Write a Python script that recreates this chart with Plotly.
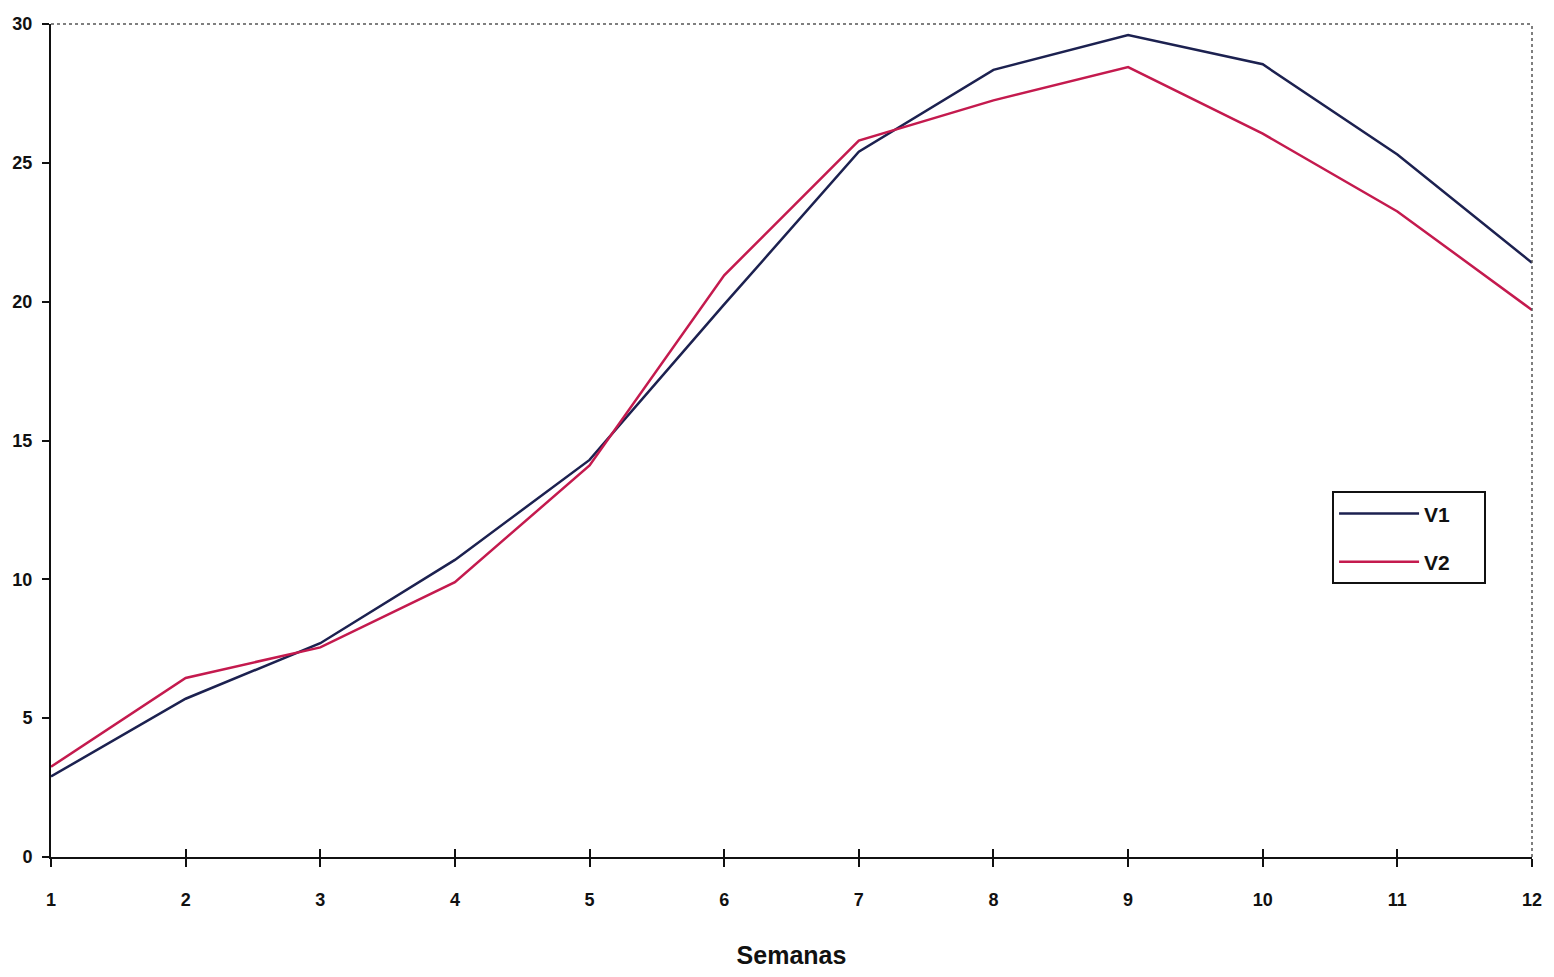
import plotly.graph_objects as go

# Weekly values for the two series
semanas = list(range(1, 13))
v1 = [2.9, 5.7, 7.7, 10.7, 14.3, 19.9, 25.4, 28.35, 29.6, 28.55, 25.3, 21.4]
v2 = [3.25, 6.45, 7.55, 9.9, 14.1, 20.95, 25.8, 27.25, 28.45, 26.05, 23.25, 19.7]
series_names = ["V1", "V2"]

y_ticks = [0, 5, 10, 15, 20, 25, 30]

FAMILY = "Liberation Sans, Arial, sans-serif"
BOLD = dict(family=FAMILY, size=18, color="#111111", weight="bold")
PAD = "\u00a0" * 5  # keeps the legend box wide on the right

fig = go.Figure()
fig.add_trace(go.Scatter(x=semanas, y=v1, mode="lines", name=series_names[0] + PAD,
                         legendgroup="a", line=dict(color="#1c2150", width=2.5)))
fig.add_trace(go.Scatter(x=semanas, y=v2, mode="lines", name=series_names[1] + PAD,
                         legendgroup="b", line=dict(color="#c41a4e", width=2.5)))
# helper trace so the inside-tick overlay axis is rendered
fig.add_trace(go.Scatter(x=[semanas[0]], y=[0], xaxis="x2", mode="lines",
                         showlegend=False, hoverinfo="skip",
                         line=dict(color="rgba(0,0,0,0)")))

fig.update_layout(
    width=1554, height=977,
    margin=dict(l=51, r=17, t=24, b=119),
    paper_bgcolor="white", plot_bgcolor="white",
    showlegend=True,
    legend=dict(
        x=0.865, y=0.439, xanchor="left", yanchor="top",
        bgcolor="white", bordercolor="#111111", borderwidth=2,
        font=dict(family=FAMILY, size=21, color="#111111", weight="bold"),
        tracegroupgap=18, traceorder="grouped",
        itemwidth=80,
    ),
    xaxis=dict(
        range=[1, 12], tickmode="array", tickvals=semanas,
        ticks="outside", ticklen=8, tickwidth=2, tickcolor="#111111",
        showline=True, linecolor="#111111", linewidth=2,
        showgrid=False, zeroline=False,
        tickfont=BOLD, ticklabelstandoff=17,
        title=dict(text="Semanas", standoff=38,
                   font=dict(family=FAMILY, size=25, color="#111111", weight="bold")),
    ),
    xaxis2=dict(
        range=[1, 12], tickmode="array", tickvals=semanas, overlaying="x",
        anchor="y", side="bottom",
        ticks="inside", ticklen=8, tickwidth=2, tickcolor="#111111",
        showticklabels=False, showline=False, showgrid=False, zeroline=False,
    ),
    yaxis=dict(
        range=[0, 30], tickmode="array", tickvals=y_ticks,
        ticks="outside", ticklen=7, tickwidth=2, tickcolor="#111111",
        showline=True, linecolor="#111111", linewidth=2,
        showgrid=False, zeroline=False,
        tickfont=BOLD, ticklabelstandoff=6,
    ),
)

# dotted frame along the top and right edges of the plot area
for x0, y0, x1, y1 in [(0, 1, 1, 1), (1, 0, 1, 1)]:
    fig.add_shape(type="line", xref="paper", yref="paper",
                  x0=x0, y0=y0, x1=x1, y1=y1,
                  line=dict(color="#555555", width=1.5, dash="dot"))

fig.write_html("out.html")
